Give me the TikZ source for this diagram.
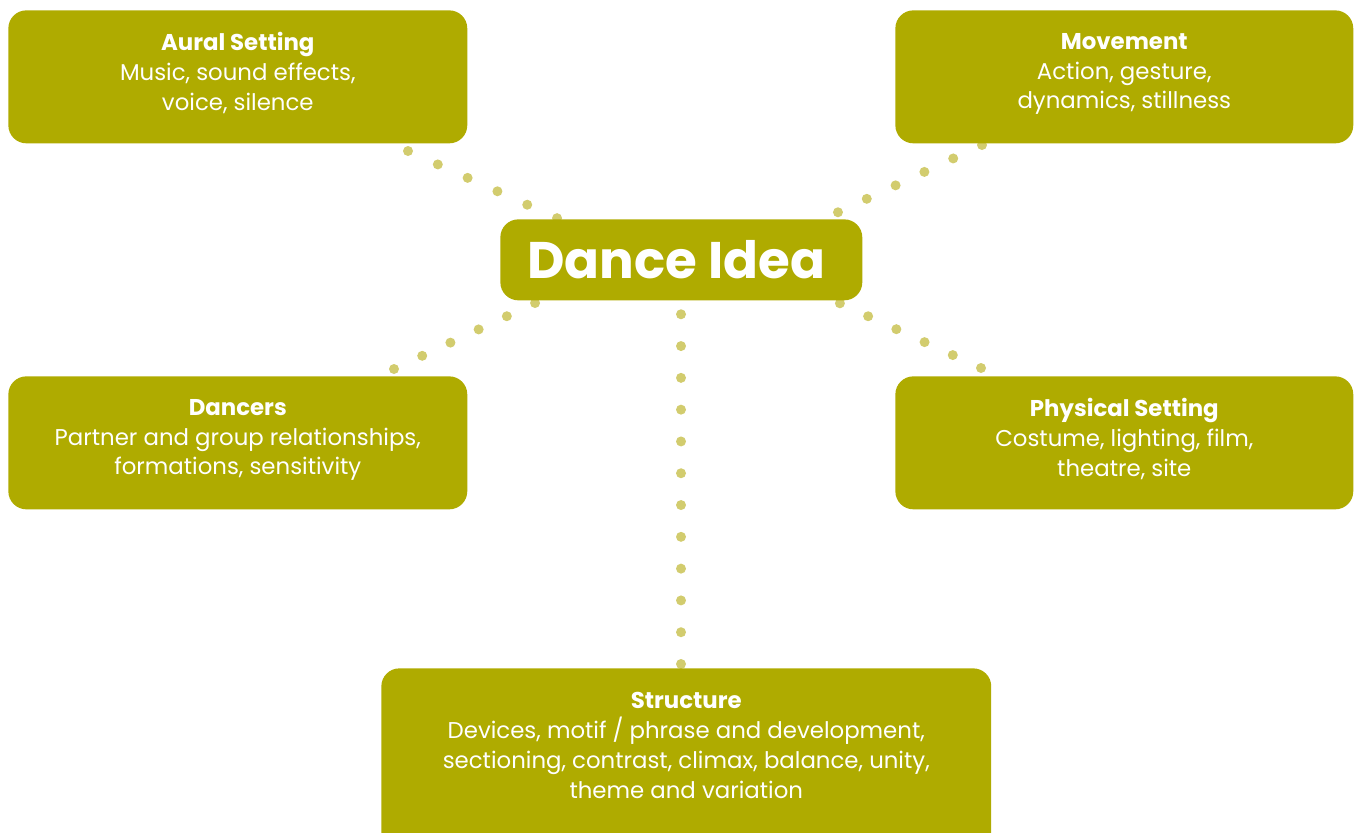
\documentclass[tikz,border=0pt]{standalone}
\usepackage{fontspec}
\setmainfont{Poppins}
\usetikzlibrary{backgrounds}

\definecolor{boxolive}{HTML}{AFAB00}
\definecolor{dotolive}{HTML}{D2CC6E}

\newcommand{\boxhead}[1]{\textbf{#1}\vphantom{l}}

\tikzset{
  box/.style={fill=boxolive, rounded corners=0.36cm, inner sep=0pt, anchor=north west},
  txt/.style={text=white, align=center, inner sep=0pt, anchor=north,
              font=\fontsize{13}{17}\selectfont},
  ideatxt/.style={text=white, font=\bfseries\fontsize{29.3}{30}\selectfont},
  dotline/.style={dotolive, line width=0.2cm, line cap=round,
                  dash pattern=on 0pt off #1},
  dotline/.default=0.63cm
}

\begin{document}
\begin{tikzpicture}[x=0.02cm, y=-0.02cm]
  \useasboundingbox (0,0) rectangle (1361,832);

  % boxes
  \node[box, minimum width=9.18cm, minimum height=2.66cm] (aural) at (8,10) {};
  \node[box, minimum width=9.16cm, minimum height=2.66cm] (move) at (895,10) {};
  \node[box, minimum width=9.18cm, minimum height=2.66cm] (dancers) at (8,376) {};
  \node[box, minimum width=9.16cm, minimum height=2.66cm] (phys) at (895,376) {};
  \node[box, minimum width=12.2cm, minimum height=4cm] (struct) at (381,668) {};
  \node[box, minimum width=7.24cm, minimum height=1.62cm] (idea) at (500,219) {};

  % texts
  \node[ideatxt] (ideaT) at ([xshift=-0.1cm]idea.center) {Dance Idea};
  \node[txt] (auralT) at ([yshift=-0.44cm]aural.north)
    {\boxhead{Aural Setting}\\Music, sound effects,\\voice, silence};
  \node[txt] (moveT) at ([yshift=-0.44cm]move.north)
    {\boxhead{Movement}\\Action, gesture,\\dynamics, stillness};
  \node[txt] (dancersT) at ([yshift=-0.44cm]dancers.north)
    {\boxhead{Dancers}\\Partner and group relationships,\\formations, sensitivity};
  \node[txt] (physT) at ([yshift=-0.44cm]phys.north)
    {\boxhead{Physical Setting}\\Costume, lighting, film,\\theatre, site};
  \node[txt] (structT) at ([yshift=-0.47cm]struct.north)
    {\boxhead{Structure}\\Devices, motif / phrase and development,\\sectioning, contrast, climax, balance, unity,\\theme and variation};

  % dotted connectors, running under the boxes
  \coordinate (a0) at (408,151);  \coordinate (a1) at (590,233);
  \coordinate (m0) at (982,145);  \coordinate (m1) at (800,230);
  \coordinate (d0) at (394,369);  \coordinate (d1) at (580,282);
  \coordinate (p0) at (981,368);  \coordinate (p1) at (800,285);
  \coordinate (s0) at (681,664);  \coordinate (s1) at (681,280);
  \begin{scope}[on background layer]
    \draw[dotline=0.654cm] (a0) -- (a1);
    \draw[dotline=0.636cm] (m0) -- (m1);
    \draw[dotline=0.623cm] (d0) -- (d1);
    \draw[dotline=0.621cm] (p0) -- (p1);
    \draw[dotline=0.636cm] (s0) -- (s1);
  \end{scope}
\end{tikzpicture}
\end{document}
